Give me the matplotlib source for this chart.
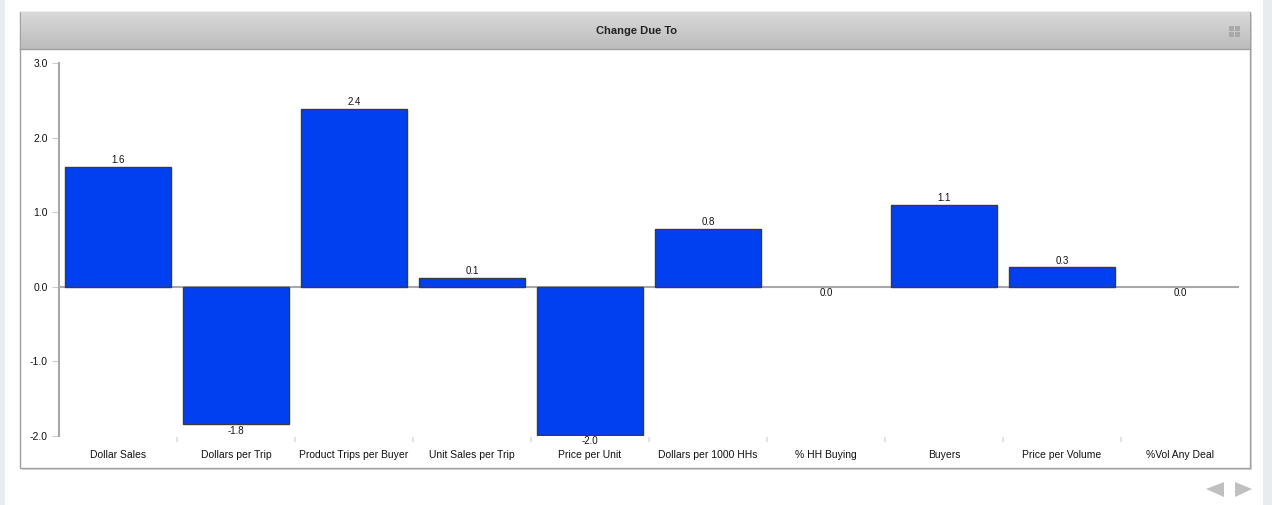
import numpy as np
import matplotlib.pyplot as plt
from matplotlib.patches import Rectangle, Polygon

plt.rcParams['font.family'] = ['Liberation Sans', 'DejaVu Sans']

categories = ["Dollar Sales", "Dollars per Trip", "Product Trips per Buyer",
              "Unit Sales per Trip", "Price per Unit", "Dollars per 1000 HHs",
              "% HH Buying", "Buyers", "Price per Volume", "%Vol Any Deal"]
values = [1.61, -1.84, 2.39, 0.12, -1.98, 0.78, 0.0, 1.10, 0.26, 0.0]
yticks = [3.0, 2.0, 1.0, 0.0, -1.0, -2.0]
title = "Change Due To"

W, H = 1272, 505
fig = plt.figure(figsize=(W / 100, H / 100), dpi=100)

# background / panel in pixel coords
bg = fig.add_axes([0, 0, 1, 1])
bg.axis('off')
bg.add_patch(Rectangle((0, 0), 5, H, color='#e9ecef', lw=0))
bg.add_patch(Rectangle((1263, 0), 9, H, color='#e9ecef', lw=0))
bg.add_patch(Rectangle((22, 14), 1230, 456, color='#d8d8d8', lw=0))  # shadow
bg.add_patch(Rectangle((20, 12), 1230, 456, facecolor='white', edgecolor='#a0a0a0', lw=1))
grad = np.linspace(0, 1, 50).reshape(-1, 1)
cmap = plt.matplotlib.colors.LinearSegmentedColormap.from_list('g', ['#d9d9d9', '#bcbcbc'])
bg.imshow(grad, extent=(20.5, 1249.5, 49, 12.5), cmap=cmap, aspect='auto', zorder=1)
bg.plot([20, 1250], [49, 49], color='#a0a0a0', lw=1, zorder=2)
bg.text(636, 31, title, ha='center', va='center', fontsize=8, fontweight='bold', color='#222222', zorder=3)
# expand icon
for dx, dy in [(-3, -3), (3, -3), (-3, 3), (3, 3)]:
    bg.add_patch(Rectangle((1234 + dx - 2.5, 31 + dy - 2.5), 5, 5, color='#a8a8a8', lw=0, zorder=3))
# nav arrows
bg.add_patch(Polygon([[1224, 482], [1206, 489], [1224, 497]], color='#c0c0c0', lw=0))
bg.add_patch(Polygon([[1235, 482], [1252, 489], [1235, 497]], color='#c0c0c0', lw=0))
bg.set_xlim(0, W)
bg.set_ylim(H, 0)

ax = fig.add_axes([59 / W, 69 / H, 1180 / W, 373 / H])
x = np.arange(len(categories))
lws = [1 if abs(v) > 0.001 else 0 for v in values]
ax.bar(x, values, width=0.9, color='#0040f0', edgecolor='#3a3a3a', linewidth=lws, zorder=3)
for xi, v in zip(x, values):
    lbl = "%.1f" % v
    if v > 0.001:
        ax.text(xi, v + 0.02, lbl, ha='center', va='bottom', fontsize=7, color='#111111')
    else:
        ax.text(xi, v - 0.02, lbl, ha='center', va='top', fontsize=7, color='#111111')

ax.set_xlim(-0.5, len(categories) - 0.5)
ax.set_ylim(-2.0, 3.0)
ax.axhline(0, color='#a8a8a8', lw=1.5, zorder=2)
ax.set_yticks(yticks)
ax.set_yticklabels(["%.1f" % t for t in yticks], fontsize=7.5, color='#111111')
ax.tick_params(axis='y', length=5, color='#cccccc', pad=3)
ax.set_xticks(x)
ax.set_xticklabels(categories, fontsize=7.5, color='#111111')
ax.tick_params(axis='x', length=0, pad=10)
for b in np.arange(0.5, len(categories) - 0.5, 1.0):
    ax.plot([b, b], [-2.03, -2.07], color='#dde4ee', lw=1.5, clip_on=False)
for s in ['top', 'right', 'bottom']:
    ax.spines[s].set_visible(False)
ax.spines['left'].set_color('#a8a8a8')
ax.spines['left'].set_linewidth(1.5)
ax.patch.set_alpha(0)

fig.savefig('out.png', dpi=100)
